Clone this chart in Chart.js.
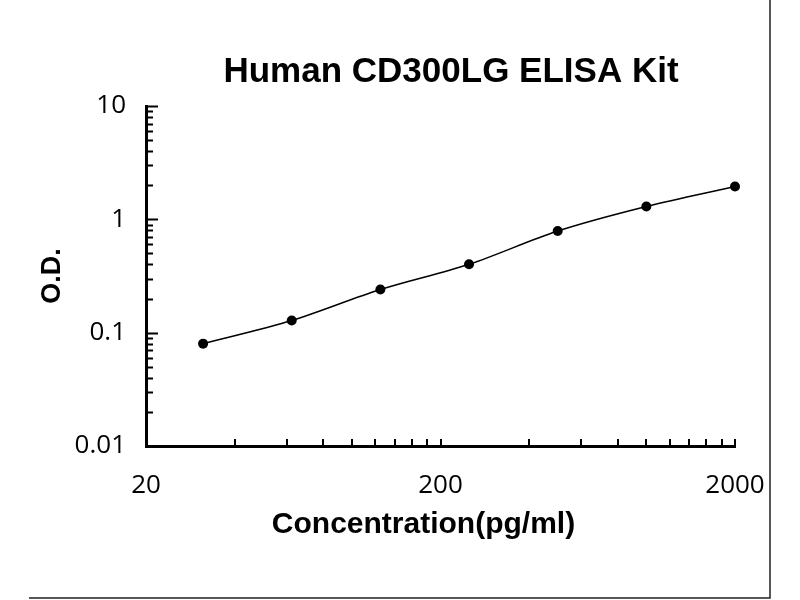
<!DOCTYPE html>
<html>
<head>
<meta charset="utf-8">
<script src="https://cdn.jsdelivr.net/npm/chart.js@4.4.1/dist/chart.umd.min.js"></script>
<style>
  html, body { margin: 0; padding: 0; background: #fff; }
  #wrap { width: 800px; height: 600px; }
</style>
</head>
<body>
<div id="wrap"><canvas id="elisa" width="800" height="600"></canvas></div>
<script>
// standard curve readings
const concentrations = [31.25, 62.5, 125, 250, 500, 1000, 2000];
const odValues = [0.080, 0.128, 0.240, 0.401, 0.789, 1.30, 1.95];

// axis ticks (Excel-style log axes)
const xTickValues = [20, 40, 60, 80, 100, 120, 140, 160, 180, 200,
                     400, 600, 800, 1000, 1200, 1400, 1600, 1800, 2000];
const xLabels = [20, 200, 2000];
const yTickValues = [0.01, 0.02, 0.03, 0.04, 0.05, 0.06, 0.07, 0.08, 0.09,
                     0.1, 0.2, 0.3, 0.4, 0.5, 0.6, 0.7, 0.8, 0.9,
                     1, 2, 3, 4, 5, 6, 7, 8, 9, 10];
const yLabels = [0.01, 0.1, 1, 10];

const tickFont = { family: '"Open Sans", "DejaVu Sans", sans-serif', size: 26 };
const boldFont = '"Liberation Sans", Arial, sans-serif';

// tick marks drawn inside the plot, like the original
const innerTicks = {
    id: 'innerTicks',
    afterDraw(chart) {
        const ctx = chart.ctx;
        const x = chart.scales.x;
        const y = chart.scales.y;
        const area = chart.chartArea;
        ctx.save();
        ctx.strokeStyle = '#000';
        ctx.lineWidth = 2;
        ctx.beginPath();
        yTickValues.forEach(v => {
            const py = Math.round(y.getPixelForValue(v)) + 0.5;
            const len = yLabels.includes(v) ? 12 : 7;
            ctx.moveTo(area.left, py);
            ctx.lineTo(area.left + len, py);
        });
        xTickValues.forEach(v => {
            const px = Math.round(x.getPixelForValue(v));
            ctx.moveTo(px, area.bottom);
            ctx.lineTo(px, area.bottom - 7);
        });
        ctx.stroke();

        // picture frame (right and bottom edges)
        ctx.strokeStyle = '#222';
        ctx.lineWidth = 1.5;
        ctx.beginPath();
        ctx.moveTo(770, 0);
        ctx.lineTo(770, 598);
        ctx.lineTo(29, 598);
        ctx.stroke();
        ctx.restore();
    },
    afterLayout(chart) {
        // nudge the title to where the original sits
        const t = chart.titleBlock;
        if (t) { t.left = 167; t.right = 735; }
        // x axis title sits a little left of the plot centre
        const xs = chart.scales.x;
        if (!xs._titleShifted) {
            const orig = xs.drawTitle;
            xs.drawTitle = function () {
                const l = this.left, r = this.right;
                this.left = l - 17; this.right = r - 17;
                orig.call(this);
                this.left = l; this.right = r;
            };
            xs._titleShifted = true;
        }
    }
};

new Chart(document.getElementById('elisa'), {
    type: 'scatter',
    data: {
        datasets: [{
            label: 'Human CD300LG',
            data: concentrations.map((c, i) => ({ x: c, y: odValues[i] })),
            showLine: true,
            cubicInterpolationMode: 'monotone',
            clip: false,
            borderColor: '#000',
            borderWidth: 1.5,
            backgroundColor: '#000',
            pointRadius: 5,
            pointBorderWidth: 0,
            pointBackgroundColor: '#000'
        }]
    },
    options: {
        responsive: false,
        animation: false,
        layout: { padding: { left: 0, right: 65, top: 0, bottom: 0 } },
        plugins: {
            legend: { display: false },
            tooltip: { enabled: false },
            title: {
                display: true,
                fullSize: false,
                text: 'Human CD300LG ELISA Kit',
                color: '#000',
                font: { family: boldFont, size: 35, weight: 'bold', lineHeight: 1.2 },
                padding: { top: 51, bottom: 13 }
            }
        },
        scales: {
            x: {
                type: 'logarithmic',
                min: 20,
                max: 2000,
                afterBuildTicks: s => { s.ticks = xTickValues.map(v => ({ value: v })); },
                afterFit: s => { s.height = 154; },
                grid: { display: false, drawTicks: false },
                border: { display: true, color: '#000', width: 3 },
                ticks: {
                    autoSkip: false,
                    maxRotation: 0,
                    padding: 24,
                    color: '#000',
                    font: tickFont,
                    callback: v => xLabels.includes(v) ? String(v) : ''
                },
                title: {
                    display: true,
                    text: 'Concentration(pg/ml)',
                    color: '#000',
                    font: { family: boldFont, size: 30, weight: 'bold', lineHeight: 1.2 },
                    padding: { top: 0, bottom: 57 }
                }
            },
            y: {
                type: 'logarithmic',
                min: 0.01,
                max: 10,
                afterBuildTicks: s => { s.ticks = yTickValues.map(v => ({ value: v })); },
                afterFit: s => { s.width = 146; },
                grid: { display: false, drawTicks: false },
                border: { display: true, color: '#000', width: 3 },
                ticks: {
                    autoSkip: false,
                    padding: 20,
                    color: '#000',
                    font: tickFont,
                    callback: v => yLabels.includes(v) ? String(v) : ''
                },
                title: {
                    display: true,
                    text: 'O.D.',
                    color: '#000',
                    font: { family: boldFont, size: 27, weight: 'bold', lineHeight: 1.2 },
                    padding: { top: 36, bottom: 0 }
                }
            }
        }
    },
    plugins: [innerTicks]
});
</script>
</body>
</html>
